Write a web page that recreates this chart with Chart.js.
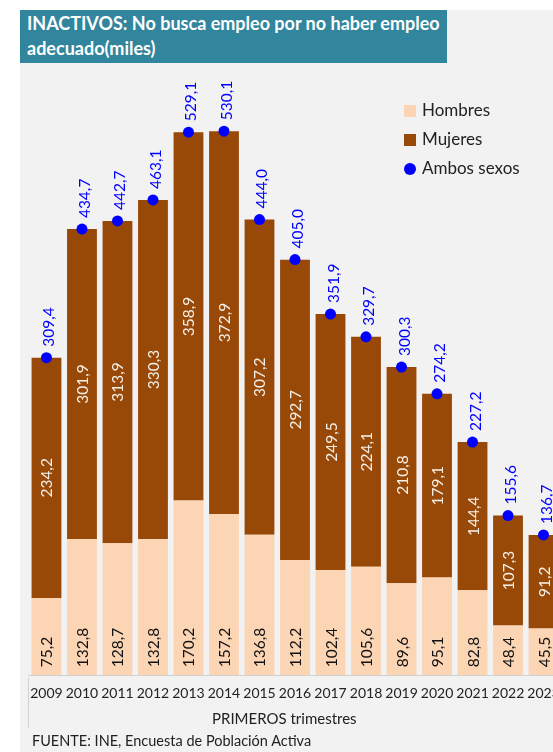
<!DOCTYPE html>
<html>
<head>
<meta charset="utf-8">
<script src="https://cdn.jsdelivr.net/npm/chart.js@4"></script>
<style>
  html, body { margin: 0; padding: 0; overflow: hidden; background: #fff; width: 553px; height: 752px; }
  body { position: relative; font-family: Lato, "Open Sans", sans-serif; }
  #panel { position: absolute; left: 20px; top: 10px; width: 600px; height: 760px; background: #f2f2f2; }
  #title { position: absolute; left: 20px; top: 10px; width: 420px; height: 52px; background: #31859c; color: #fff;
           font-weight: bold; font-size: 18px; line-height: 25px; padding: 1px 0 0 7px; box-sizing: content-box; }
  #chartWrap { position: absolute; left: 20px; top: 62px; }
  #legend { position: absolute; left: 404px; top: 98px; font-size: 17px; color: #222; }
  #legend div { height: 29px; line-height: 24px; white-space: nowrap; }
  #legend span.sw { display: inline-block; width: 12px; height: 12px; margin-right: 6px; vertical-align: -1px; }
  #legend span.dot { display: inline-block; width: 12px; height: 12px; border-radius: 6px; margin-right: 6px; vertical-align: -1px; background: #0000ff; }
  #axisTitle { position: absolute; left: 212px; top: 709px; font-size: 15px; color: #222; }
  #vline { position: absolute; left: 28px; top: 678px; width: 1px; height: 50px; background: #d0d0d0; }
  #source { position: absolute; left: 32px; top: 732px; font-size: 14.5px; color: #222; }
</style>
</head>
<body>
<div id="panel"></div>
<div id="title">INACTIVOS: No busca empleo por no haber empleo<br>adecuado(miles)</div>
<div id="chartWrap"><canvas id="paroChart" width="550" height="659"></canvas></div>
<div id="legend">
  <div><span class="sw" style="background:#fcd5b5"></span>Hombres</div>
  <div><span class="sw" style="background:#984807"></span>Mujeres</div>
  <div><span class="dot"></span>Ambos sexos</div>
</div>
<div id="vline"></div>
<div id="axisTitle">PRIMEROS trimestres</div>
<div id="source">FUENTE: INE, Encuesta de Población Activa</div>
<script>
var years = ['2009', '2010', '2011', '2012', '2013', '2014', '2015', '2016',
  '2017', '2018', '2019', '2020', '2021', '2022', '2023'];
var hombres = [75.2, 132.8, 128.7, 132.8, 170.2, 157.2, 136.8, 112.2,
  102.4, 105.6, 89.6, 95.1, 82.8, 48.4, 45.5];
var mujeres = [234.2, 301.9, 313.9, 330.3, 358.9, 372.9, 307.2, 292.7,
  249.5, 224.1, 210.8, 179.1, 144.4, 107.3, 91.2];
var ambos = [309.4, 434.7, 442.7, 463.1, 529.1, 530.1, 444.0, 405.0,
  351.9, 329.7, 300.3, 274.2, 227.2, 155.6, 136.7];

function fmt(v) {
  return v.toFixed(1).replace('.', ',');
}

// etiquetas giradas dentro y encima de las barras
var etiquetas = {
  id: 'etiquetas',
  afterDatasetsDraw: function (chart) {
    var ctx = chart.ctx;
    var mH = chart.getDatasetMeta(0).data;
    var mM = chart.getDatasetMeta(1).data;
    var mA = chart.getDatasetMeta(2).data;
    ctx.save();
    ctx.font = '15.5px Lato, "Open Sans", sans-serif';
    ctx.textBaseline = 'middle';
    function draw(txt, x, y, align, color) {
      ctx.save();
      ctx.translate(x, y);
      ctx.rotate(-Math.PI / 2);
      ctx.textAlign = align;
      ctx.fillStyle = color;
      ctx.fillText(txt, 0, 0);
      ctx.restore();
    }
    for (var i = 0; i < years.length; i++) {
      var h = mH[i], m = mM[i], a = mA[i];
      draw(fmt(hombres[i]), h.x + 1, h.base - 8, 'left', '#111');
      draw(fmt(mujeres[i]), m.x + 1, (m.y + m.base) / 2, 'center', '#f4f0e8');
      draw(fmt(ambos[i]), a.x + 3, a.y - 11, 'left', '#0000ff');
    }
    ctx.restore();
  }
};

var ctx = document.getElementById('paroChart').getContext('2d');
var paroChart = new Chart(ctx, {
  type: 'bar',
  data: {
    labels: years,
    datasets: [
      {
        label: 'Hombres',
        data: hombres,
        backgroundColor: '#fcd5b5',
        borderWidth: 0,
        categoryPercentage: 1,
        barPercentage: 0.84,
        order: 2
      },
      {
        label: 'Mujeres',
        data: mujeres,
        backgroundColor: '#984807',
        borderWidth: 0,
        categoryPercentage: 1,
        barPercentage: 0.84,
        order: 2
      },
      {
        type: 'line',
        label: 'Ambos sexos',
        data: ambos,
        showLine: false,
        pointRadius: 5.5,
        pointBackgroundColor: '#0000ff',
        pointBorderWidth: 0,
        order: 1
      }
    ]
  },
  options: {
    responsive: false,
    animation: false,
    devicePixelRatio: 1,
    layout: { padding: { left: 8, right: 8, top: 18, bottom: 9 } },
    plugins: { legend: { display: false }, tooltip: { enabled: false } },
    scales: {
      x: {
        stacked: true,
        grid: { display: false, drawTicks: false },
        border: { display: true, color: '#d0d0d0', width: 1 },
        ticks: { color: '#222', font: { family: 'Lato', size: 14 }, padding: 10, maxRotation: 0, autoSkip: false }
      },
      y: {
        stacked: true,
        display: false,
        min: 0,
        max: 580
      }
    }
  },
  plugins: [etiquetas]
});
</script>
</body>
</html>
